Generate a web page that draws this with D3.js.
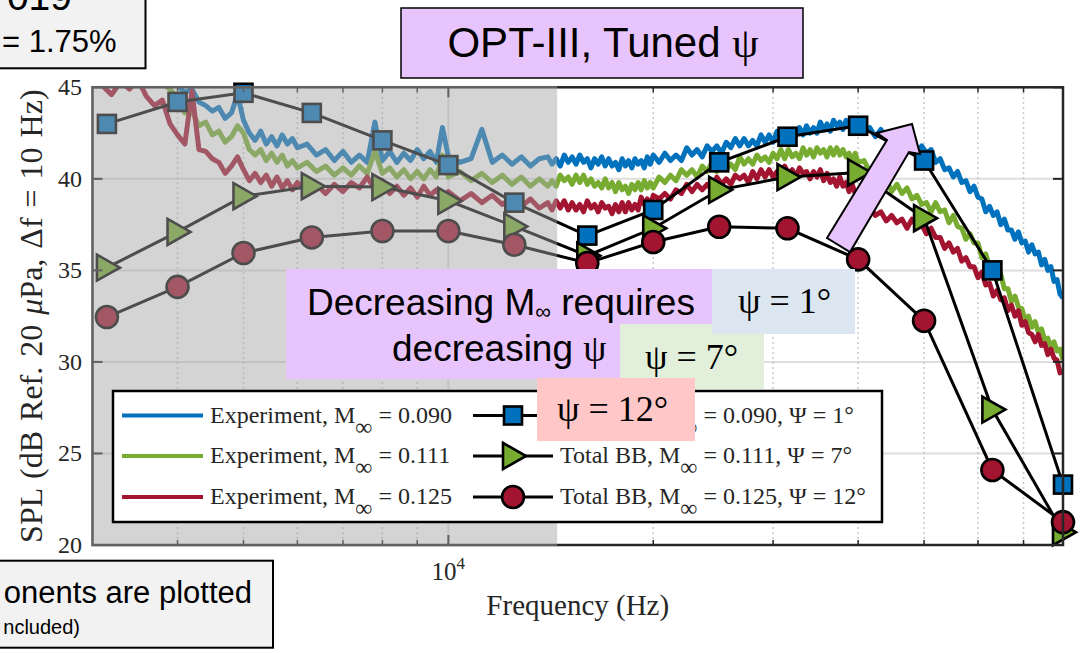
<!DOCTYPE html>
<html>
<head>
<meta charset="utf-8">
<script src="https://cdn.jsdelivr.net/npm/d3@7"></script>
<style>
  body { margin: 0; background: #fff; }
  svg { display: block; }
</style>
</head>
<body>
<svg id="chart" width="1087" height="653"></svg>
<script>
// Narrowband spectra (Hz) shared by the three experiment curves
const freqHz = [
  3000,3100,3200,3300,3400,3500,3600,3700,3800,3900,
  4000,4100,4200,4300,4400,4500,4600,4700,4800,4900,
  5000,5100,5200,5300,5400,5500,5600,5700,5800,5900,
  6000,6200,6400,6600,6800,7000,7200,7400,7600,7800,
  8000,8200,8400,8600,8800,9000,9200,9400,9600,9800,
  10000,10400,10800,11200,11600,12000,12400,12800,13200,13600,
  14000,14200,14400,14600,14800,15000,15200,15400,15600,15800,
  16000,16200,16400,16600,16800,17000,17200,17400,17600,17800,
  18000,18200,18400,18600,18800,19000,19200,19400,19600,19800,
  20000,20400,20800,21200,21600,22000,22400,22800,23200,23600,
  24000,24400,24800,25200,25600,26000,26400,26800,27200,27600,
  28000,28400,28800,29200,29600,30000,30400,30800,31200,31600,
  32000,32400,32800,33200,33600,34000,34400,34800,35200,35600,
  36000,36400,36800,37200,37600,38000,38400,38800,39200,39600,
  40000,40800,41600,42400,43200,44000,44800,45600,46400,47200,
  48000,48800,49600,50400,51200,52000,52800,53600,54400,55200,
  56000,56800,57600,58400,59200,60000,60800,61600,62400,63200,
  64000,64800,65600,66400,67200,68000,68800,69600,70400,71200,
  72000,72800,73600,74400,75200,76000,76800,77600,78400,79200,
  80000
];

// Experiment, M = 0.090 (dB)
const expM090 = [
  46.5,46.8,46.2,46.9,46.4,46.7,46.0,46.3,45.6,45.9,
  45.1,44.7,44.9,44.2,44.0,43.7,43.9,43.3,43.6,44.6,
  43.2,42.5,42.1,42.6,41.9,42.3,41.8,42.4,41.9,42.2,
  41.7,41.9,41.3,41.6,41.0,41.5,40.9,41.3,40.9,43.1,
  41.0,41.5,40.9,41.4,41.0,41.6,41.1,41.5,40.9,42.8,
  41.2,40.9,41.1,42.7,40.9,41.3,40.8,41.2,40.7,41.1,
  41.2,40.8,41.1,40.7,41.3,40.9,41.2,40.8,41.3,40.9,
  41.1,40.6,41.1,40.8,41.2,40.7,41.1,40.7,40.9,40.5,
  41.1,40.7,41.0,40.6,41.1,40.8,41.0,40.6,41.2,40.8,
  41.3,40.9,41.4,41.0,41.3,41.0,41.7,41.3,41.6,41.2,
  41.8,41.5,41.8,41.4,42.0,41.7,42.2,41.8,42.2,41.8,
  42.1,41.8,42.4,42.0,42.4,42.0,42.6,42.4,42.5,42.2,
  42.7,42.4,42.8,42.4,42.9,42.5,42.8,42.5,43.1,42.7,
  43.0,42.6,43.2,42.9,43.1,42.7,43.2,42.9,43.3,42.9,
  43.2,42.7,42.8,42.3,42.7,42.2,42.3,41.8,42.2,41.8,
  41.9,41.4,41.8,41.4,41.6,40.9,41.1,40.5,40.6,40.1,
  40.4,39.8,39.9,39.3,39.6,39.0,38.9,38.2,38.5,38.0,
  38.2,37.5,37.8,37.2,37.2,36.7,37.1,36.5,36.6,36.0,
  36.4,35.9,36.0,35.3,35.6,35.0,35.2,34.4,34.5,33.7,
  33.5
];

// Experiment, M = 0.111 (dB)
const expM111 = [
  46.5,47.0,46.3,46.8,46.1,46.6,46.0,45.6,45.2,44.9,
  44.4,43.6,43.7,42.9,43.1,42.4,42.6,42.0,42.3,42.9,
  42.5,41.6,41.3,41.6,41.0,41.4,40.9,41.3,40.7,41.0,
  40.6,40.9,40.4,40.7,40.2,40.6,40.2,40.7,40.3,41.5,
  40.3,40.6,40.1,40.5,40.0,40.4,40.0,40.5,40.1,41.3,
  40.1,40.4,39.9,40.3,39.8,40.2,39.7,40.1,39.6,40.0,
  39.6,39.9,39.6,40.2,39.9,40.1,39.7,40.2,39.8,40.2,
  39.7,40.0,39.6,39.8,39.5,40.0,39.5,39.8,39.3,39.8,
  39.4,39.6,39.2,39.7,39.4,39.8,39.4,39.9,39.5,39.8,
  39.5,40.1,39.8,40.2,39.9,40.5,40.2,40.5,40.1,40.7,
  40.4,40.9,40.4,40.9,40.5,40.8,40.5,41.2,40.8,41.1,
  40.8,41.3,41.0,41.2,40.9,41.4,41.1,41.6,41.1,41.6,
  41.2,41.4,41.1,41.7,41.3,41.6,41.2,41.7,41.4,41.6,
  41.2,41.7,41.3,41.7,41.3,41.6,41.2,41.4,40.9,41.4,
  40.9,41.0,40.4,40.6,40.0,40.0,39.3,39.7,39.2,39.5,
  38.9,39.1,38.6,38.7,38.2,38.7,38.2,38.3,37.6,38.0,
  37.4,37.3,36.7,37.0,36.5,36.5,35.7,35.9,35.2,35.2,
  34.5,34.8,34.0,34.0,33.3,33.6,33.0,32.9,32.3,32.5,
  31.9,32.2,31.6,31.8,31.2,31.3,30.7,31.1,30.6,30.7,
  30.1
];

// Experiment, M = 0.125 (dB)
const expM125 = [
  45.6,45.1,44.6,45.3,44.9,45.4,44.5,44.0,44.3,43.0,
  42.4,41.9,44.8,41.6,41.5,41.1,40.9,40.3,40.7,41.2,
  40.5,39.9,40.3,39.8,40.2,39.6,40.1,39.5,39.9,39.4,
  39.8,39.3,39.7,39.2,39.7,39.3,39.8,39.5,40.1,39.4,
  39.9,39.2,39.6,39.1,39.5,39.0,39.6,39.1,39.4,38.9,
  39.3,38.8,39.2,38.7,39.1,38.6,39.0,38.5,38.9,38.4,
  38.7,38.3,38.8,38.4,38.8,38.3,38.7,38.3,38.6,38.2,
  38.8,38.4,38.6,38.2,38.7,38.4,38.5,38.1,38.6,38.2,
  38.7,38.2,38.7,38.3,38.6,38.3,39.0,38.6,38.9,38.5,
  39.1,38.9,39.2,38.9,39.4,39.2,39.7,39.3,39.7,39.4,
  39.7,39.4,40.1,39.7,40.0,39.7,40.2,40.0,40.2,39.8,
  40.4,40.0,40.5,40.1,40.5,40.1,40.4,40.1,40.7,40.3,
  40.5,40.1,40.6,40.3,40.4,40.0,40.4,40.1,40.5,39.9,
  40.3,39.8,40.0,39.6,40.1,39.6,39.8,39.3,39.7,39.2,
  39.1,38.3,38.5,38.0,38.2,37.7,38.0,37.6,37.8,37.3,
  37.8,37.4,37.5,37.0,37.3,36.8,36.8,36.2,36.5,36.0,
  36.2,35.5,35.7,35.2,35.2,34.6,34.9,34.2,34.3,33.6,
  33.9,33.4,33.5,32.8,33.1,32.5,32.8,32.0,32.2,31.6,
  31.5,31.1,31.5,30.9,31.0,30.4,30.7,30.2,30.1,29.4,
  29.6
];

// Total broadband prediction, one-third-octave band centres (Hz)
const bandHz = [3150,4000,5000,6300,8000,10000,12500,16000,20000,25000,31500,40000,50000,63000,80000];
const bbM090 = [43.0,44.2,44.7,43.6,42.1,40.75,38.7,36.9,38.3,40.9,42.3,42.9,41.0,35.0,23.3];
const bbM111 = [35.15,37.1,39.05,39.6,39.55,38.8,37.4,35.8,37.3,39.4,40.1,40.35,37.85,27.4,20.7];
const bbM125 = [32.45,34.1,35.95,36.8,37.15,37.15,36.4,35.4,36.55,37.38,37.3,35.6,32.25,24.1,21.25];

// Axis ticks
const yTicks = [20,25,30,35,40,45];
const yGrid = [25,30,35,40];
const xMajorTicks = [10000];
const xMinorTicks = [4000,5000,6000,7000,8000,9000,20000,30000,40000,50000,60000,70000];
const shadeEndHz = 14450;

// Legend text
const machLabels = ["0.090","0.111","0.125"];
const psiLabels = ["1°","7°","12°"];
const seriesColors = ["#0072BD","#77AC30","#A2142F"];

const svg = d3.select("#chart");
const serif = "'Liberation Serif','Times New Roman',serif";
const sans = "'Liberation Sans',Arial,sans-serif";

const x = d3.scaleLog().domain([3000, 80000]).range([92.5, 1063]);
const y = d3.scaleLinear().domain([20, 45]).range([545, 87.3]);
const [x0, x1] = x.range();
const [yb, yt] = y.range();

svg.append("defs").append("clipPath").attr("id", "plotClip")
  .append("rect").attr("x", x0).attr("y", yt).attr("width", x1 - x0).attr("height", yb - yt);

// plot background
svg.append("rect").attr("x", x0).attr("y", yt).attr("width", x1 - x0).attr("height", yb - yt).attr("fill", "#fff");

// grid
const grid = svg.append("g");
grid.selectAll("line.hg").data(yGrid).join("line")
  .attr("x1", x0).attr("x2", x1).attr("y1", d => y(d)).attr("y2", d => y(d))
  .attr("stroke", "#dedede").attr("stroke-width", 2);
grid.selectAll("line.vmin").data(xMinorTicks).join("line")
  .attr("x1", d => x(d)).attr("x2", d => x(d)).attr("y1", yt).attr("y2", yb)
  .attr("stroke", "#b8b8b8").attr("stroke-width", 1.5).attr("stroke-dasharray", "1.5,3.5");
grid.selectAll("line.vmaj").data(xMajorTicks).join("line")
  .attr("x1", d => x(d)).attr("x2", d => x(d)).attr("y1", yt).attr("y2", yb)
  .attr("stroke", "#dedede").attr("stroke-width", 2);

// experiment spectra
const expSeries = [expM090, expM111, expM125];
const expLine = d3.line().x(d => x(d[0])).y(d => y(d[1]));
const expG = svg.append("g").attr("clip-path", "url(#plotClip)");
expSeries.forEach((vals, i) => {
  expG.append("path")
    .attr("d", expLine(freqHz.map((f, k) => [f, vals[k]])))
    .attr("fill", "none").attr("stroke", seriesColors[i])
    .attr("stroke-width", 5).attr("stroke-linejoin", "round");
});

// broadband predictions
const bbSeries = [bbM090, bbM111, bbM125];
const shapes = ["square", "triangle", "circle"];
function drawMarker(g, shape, cx, cy, color) {
  if (shape === "square") {
    g.append("rect").attr("x", cx - 9).attr("y", cy - 9).attr("width", 18).attr("height", 18)
      .attr("fill", color).attr("stroke", "#000").attr("stroke-width", 2.6);
  } else if (shape === "triangle") {
    g.append("path").attr("d", `M${cx - 10},${cy - 13}L${cx + 13},${cy}L${cx - 10},${cy + 13}Z`)
      .attr("fill", color).attr("stroke", "#000").attr("stroke-width", 2.6).attr("stroke-linejoin", "miter");
  } else {
    g.append("circle").attr("cx", cx).attr("cy", cy).attr("r", 11)
      .attr("fill", color).attr("stroke", "#000").attr("stroke-width", 2.6);
  }
}
const bbLine = d3.line().x(d => x(d[0])).y(d => y(d[1]));
bbSeries.forEach((vals, i) => {
  const g = svg.append("g");
  const pts = bandHz.map((f, k) => [f, vals[k]]);
  g.append("path").attr("d", bbLine(pts)).attr("fill", "none")
    .attr("stroke", "#000").attr("stroke-width", 3);
  pts.forEach(p => drawMarker(g, shapes[i], x(p[0]), y(p[1]), seriesColors[i]));
});

// axes box and ticks
const axG = svg.append("g").attr("stroke", "#262626");
axG.append("rect").attr("x", x0).attr("y", yt).attr("width", x1 - x0).attr("height", yb - yt)
  .attr("fill", "none").attr("stroke-width", 2.5);
yTicks.forEach(v => {
  axG.append("line").attr("x1", x0).attr("x2", x0 + 10).attr("y1", y(v)).attr("y2", y(v)).attr("stroke-width", 2);
  axG.append("line").attr("x1", x1).attr("x2", x1 - 10).attr("y1", y(v)).attr("y2", y(v)).attr("stroke-width", 2);
});
xMinorTicks.forEach(v => {
  axG.append("line").attr("x1", x(v)).attr("x2", x(v)).attr("y1", yb).attr("y2", yb - 5).attr("stroke-width", 1.5);
  axG.append("line").attr("x1", x(v)).attr("x2", x(v)).attr("y1", yt).attr("y2", yt + 5).attr("stroke-width", 1.5);
});
xMajorTicks.forEach(v => {
  axG.append("line").attr("x1", x(v)).attr("x2", x(v)).attr("y1", yb).attr("y2", yb - 10).attr("stroke-width", 2);
  axG.append("line").attr("x1", x(v)).attr("x2", x(v)).attr("y1", yt).attr("y2", yt + 10).attr("stroke-width", 2);
});

// shaded low-frequency region
svg.append("rect").attr("x", x0 - 1.5).attr("y", yt - 1.5)
  .attr("width", x(shadeEndHz) - x0 + 1.5).attr("height", yb - yt + 3)
  .attr("fill", "rgb(164,164,164)").attr("fill-opacity", 0.47);

// tick labels
svg.selectAll("text.ytick").data(yTicks).join("text")
  .attr("x", 82).attr("y", d => y(d) + 8).attr("text-anchor", "end")
  .attr("font-family", serif).attr("font-size", 24).attr("fill", "#262626").text(d => d);
xMajorTicks.forEach(v => {
  const t = svg.append("text").attr("x", x(v)).attr("y", 580).attr("text-anchor", "middle")
    .attr("font-family", serif).attr("font-size", 25).attr("fill", "#262626");
  t.append("tspan").text("10");
  t.append("tspan").attr("dy", -11).attr("font-size", 17).text(Math.round(Math.log10(v)));
});

// axis labels
svg.append("text").attr("x", (x0 + x1) / 2).attr("y", 615).attr("text-anchor", "middle")
  .attr("font-family", serif).attr("font-size", 29).attr("fill", "#262626").text("Frequency (Hz)");
const yl = svg.append("text").attr("transform", `translate(42,${(yt + yb) / 2}) rotate(-90)`)
  .attr("text-anchor", "middle").attr("font-family", serif).attr("font-size", 32)
  .attr("word-spacing", 2).attr("fill", "#262626");
yl.append("tspan").text("SPL (dB Ref. 20 ");
yl.append("tspan").attr("font-style", "italic").text("μ");
yl.append("tspan").text("Pa, Δf = 10 Hz)");

// legend
const lg = svg.append("g");
lg.append("rect").attr("x", 113).attr("y", 391).attr("width", 769).attr("height", 131)
  .attr("fill", "#fff").attr("stroke", "#000").attr("stroke-width", 2.5);
const rowY = [415.5, 456, 497];
rowY.forEach((ry, i) => {
  lg.append("line").attr("x1", 122).attr("x2", 203).attr("y1", ry).attr("y2", ry)
    .attr("stroke", seriesColors[i]).attr("stroke-width", 4);
  const t1 = lg.append("text").attr("x", 210).attr("y", ry + 7)
    .attr("font-family", serif).attr("font-size", 24).attr("fill", "#262626");
  t1.append("tspan").text("Experiment, M");
  t1.append("tspan").attr("dy", 12).attr("font-size", 24).text("∞");
  t1.append("tspan").attr("dy", -12).text(" = " + machLabels[i]);

  lg.append("line").attr("x1", 473).attr("x2", 553).attr("y1", ry).attr("y2", ry)
    .attr("stroke", "#000").attr("stroke-width", 3);
  drawMarker(lg, shapes[i], 513, ry, seriesColors[i]);
  const t2 = lg.append("text").attr("x", 560).attr("y", ry + 7)
    .attr("font-family", serif).attr("font-size", 24).attr("fill", "#262626");
  t2.append("tspan").text("Total BB, M");
  t2.append("tspan").attr("dy", 12).attr("font-size", 24).text("∞");
  t2.append("tspan").attr("dy", -12).text(" = " + machLabels[i] + ", Ψ = " + psiLabels[i]);
});

// annotations
const ann = svg.append("g");
ann.append("rect").attr("x", 286).attr("y", 269).attr("width", 426).attr("height", 110).attr("fill", "#e8c4fc");
ann.append("rect").attr("x", 620).attr("y", 324).attr("width", 144).attr("height", 65).attr("fill", "#e2efda");
ann.append("rect").attr("x", 712).attr("y", 269).attr("width", 143).attr("height", 65).attr("fill", "#dce6f1");
ann.append("rect").attr("x", 537).attr("y", 378).attr("width", 158).attr("height", 63).attr("fill", "#ffc7c7");

const dec = ann.append("text").attr("x", 307).attr("y", 315).attr("font-family", sans).attr("font-size", 37).attr("fill", "#000");
dec.append("tspan").text("Decreasing M");
dec.append("tspan").attr("dy", 4).attr("font-size", 22).text("∞");
dec.append("tspan").attr("dy", -4).text(" requires");
const dec2 = ann.append("text").attr("x", 392).attr("y", 361).attr("font-family", sans).attr("font-size", 37).attr("fill", "#000");
dec2.append("tspan").text("decreasing ");
dec2.append("tspan").attr("font-family", serif).text("ψ");

[["ψ = " + psiLabels[0], 738, 313], ["ψ = " + psiLabels[1], 645, 369], ["ψ = " + psiLabels[2], 557, 421]]
  .forEach(([s, tx, ty]) => {
    ann.append("text").attr("x", tx).attr("y", ty).attr("font-family", serif)
      .attr("font-size", 36).attr("fill", "#000").text(s);
  });

// direction arrow
ann.append("path")
  .attr("d", "M827,238 L887,140 L877,133 L912,124 L920,154 L909,152 L850,252 Z")
  .attr("fill", "#e8c4fc").attr("stroke", "#000").attr("stroke-width", 2).attr("stroke-linejoin", "miter");

// title box
ann.append("rect").attr("x", 401).attr("y", 8).attr("width", 402).attr("height", 70)
  .attr("fill", "#e8c4fc").attr("stroke", "#000").attr("stroke-width", 1.5);
const ttl = ann.append("text").attr("x", 603).attr("y", 57).attr("text-anchor", "middle")
  .attr("font-family", sans).attr("font-size", 42).attr("fill", "#000");
ttl.append("tspan").text("OPT-III, Tuned ");
ttl.append("tspan").attr("font-family", serif).text("ψ");

// corner notes
ann.append("rect").attr("x", -5).attr("y", -5).attr("width", 150.5).attr("height", 73.3)
  .attr("fill", "#f2f2f2").attr("stroke", "#000").attr("stroke-width", 2);
ann.append("text").attr("x", 72).attr("y", 10).attr("text-anchor", "end").attr("font-family", sans)
  .attr("font-size", 39).attr("fill", "#000").text("019");
ann.append("text").attr("x", 2).attr("y", 52).attr("font-family", sans)
  .attr("font-size", 31).attr("fill", "#000").text("= 1.75%");

ann.append("rect").attr("x", -5).attr("y", 560.7).attr("width", 278).attr("height", 87)
  .attr("fill", "#f2f2f2").attr("stroke", "#000").attr("stroke-width", 2);
ann.append("text").attr("x", 252).attr("y", 603).attr("text-anchor", "end").attr("font-family", sans)
  .attr("font-size", 31).attr("fill", "#000").text("onents are plotted");
ann.append("text").attr("x", 80).attr("y", 634).attr("text-anchor", "end").attr("font-family", sans)
  .attr("font-size", 20).attr("fill", "#000").text("ncluded)");
</script>
</body>
</html>
